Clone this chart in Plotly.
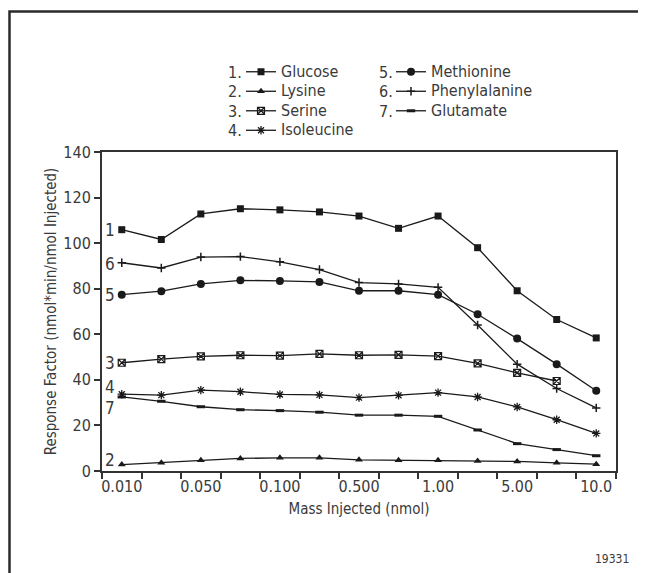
import plotly.graph_objects as go

# ---- data ----
doses = ["0.010", "0.025", "0.050", "0.075", "0.100", "0.250", "0.500",
         "0.750", "1.00", "2.50", "5.00", "7.50", "10.0"]
tick_labels = ["0.010", "", "0.050", "", "0.100", "", "0.500",
               "", "1.00", "", "5.00", "", "10.0"]

glucose = [105.9, 101.6, 112.8, 115.1, 114.6, 113.7, 111.9, 106.5, 111.9, 98.0, 79.1, 66.5, 58.4]
lysine = [2.8, 3.6, 4.7, 5.5, 5.8, 5.8, 4.9, 4.7, 4.7, 4.4, 4.2, 3.6, 3.0]
serine = [47.5, 49.1, 50.3, 50.8, 50.6, 51.4, 50.8, 51.0, 50.4, 47.2, 43.1, 39.5, None]
isoleucine = [33.7, 33.3, 35.5, 34.8, 33.6, 33.4, 32.2, 33.2, 34.4, 32.5, 28.1, 22.5, 16.5]
methionine = [77.4, 78.9, 82.1, 83.7, 83.4, 83.0, 79.1, 79.1, 77.4, 68.8, 58.1, 46.9, 35.2]
phenylalanine = [91.4, 89.1, 93.9, 94.1, 91.8, 88.4, 82.7, 82.1, 80.6, 64.1, 46.9, 36.2, 27.7]
glutamate = [32.5, 30.6, 28.2, 26.9, 26.5, 25.8, 24.5, 24.5, 24.0, 18.0, 12.0, 9.4, 6.7]

names = ["Glucose", "Lysine", "Serine", "Isoleucine", "Methionine", "Phenylalanine", "Glutamate"]
numbers = ["1.", "2.", "3.", "4.", "5.", "6.", "7."]
series = [glucose, lysine, serine, isoleucine, methionine, phenylalanine, glutamate]

FONT = "DejaVu Sans Condensed, Liberation Sans Narrow, sans-serif"
TXT = "#3a3a3a"
INK = "#1a1a1a"

styles = [
    dict(symbol="square", size=7, line=dict(width=0)),
    dict(symbol="triangle-up", size=7, line=dict(width=0)),
    dict(symbol="square-x-open", size=7, line=dict(width=1.2, color=INK)),
    dict(symbol="asterisk-open", size=7, line=dict(width=1.3, color=INK)),
    dict(symbol="circle", size=8, line=dict(width=0)),
    dict(symbol="cross-thin-open", size=6, line=dict(width=1.5, color=INK)),
    dict(symbol="line-ew-open", size=6, line=dict(width=3, color=INK)),
]

fig = go.Figure()
for i, (nm, ys, st) in enumerate(zip(names, series, styles)):
    fig.add_trace(go.Scatter(
        x=doses, y=ys, name=f"<span style='font-size:16px'>{nm}</span>",
        mode="lines+markers",
        line=dict(color=INK, width=1.3),
        marker=dict(color=INK, **st),
        legend="legend" if i < 4 else "legend2",
        connectgaps=False,
        hovertemplate=nm + ": %{y}<extra></extra>",
    ))

# page offset of the figure (default body margin) and geometry helpers
OFF = 8
W, H = 646 - OFF, 573 - OFF
ML, MR, MT, MB = 102 - OFF, 30, 152 - OFF, 110 - OFF
PW, PH = W - ML - MR, H - MT - MB
def px(x):
    return (x - OFF - ML) / PW
def py(y):
    return (H - MB - (y - OFF)) / PH

# line-number labels at left of each series
line_numbers = ["1", "2", "3", "4", "5", "6", "7"]
label_shift = {"1": 0, "2": 2, "3": 0, "4": 3, "5": 0, "6": -0.5, "7": -5}
annotations = []
for num, ys in zip(line_numbers, series):
    annotations.append(dict(
        x=doses[0], y=ys[0] + label_shift[num], xref="x", yref="y",
        text=num, showarrow=False, xshift=-12, font=dict(size=17, color=TXT, family=FONT),
    ))

# legend numbers
row_y = [72, 91.5, 111, 130.5]
for i, num in enumerate(numbers):
    col = 0 if i < 4 else 1
    r = i if i < 4 else i - 4
    annotations.append(dict(
        x=px(226 if col == 0 else 377), y=py(row_y[r]), xref="paper", yref="paper",
        text=num, showarrow=False, xanchor="left", yanchor="middle",
        font=dict(size=16, color=TXT, family=FONT),
    ))

annotations.append(dict(
    x=px(631), y=py(559), xref="paper", yref="paper", text="19331",
    showarrow=False, xanchor="right", yanchor="middle",
    font=dict(size=12, color=TXT, family=FONT),
))

# outer frame (top and left edges visible)
shapes = [dict(
    type="path", xref="paper", yref="paper",
    path=f"M {px(9.5)} {py(600)} L {px(9.5)} {py(11.5)} L {px(700)} {py(11.5)}",
    line=dict(color="#2a2a2a", width=2.5),
)]

legend_common = dict(
    font=dict(size=12.7, color=TXT, family=FONT),
    bgcolor="rgba(0,0,0,0)", borderwidth=0, tracegroupgap=0,
    xanchor="left", yanchor="top", itemwidth=30,
)

fig.update_layout(
    width=W, height=H,
    margin=dict(l=ML, r=MR, t=MT, b=MB, pad=0),
    paper_bgcolor="white", plot_bgcolor="white",
    font=dict(family=FONT, color=TXT, size=16),
    showlegend=True,
    legend=dict(x=px(241), y=py(57), **legend_common),
    legend2=dict(x=px(391), y=py(57), **legend_common),
    annotations=annotations,
    shapes=shapes,
)

fig.update_xaxes(
    type="category", categoryorder="array", categoryarray=doses,
    range=[-0.5, 12.5],
    tickmode="array", tickvals=doses, ticktext=tick_labels, tickangle=0,
    tickson="boundaries", ticks="outside", ticklen=6, tickwidth=1.5, tickcolor="#333",
    showline=True, linecolor="#333", linewidth=2, mirror=True,
    showgrid=False, zeroline=False,
    tickfont=dict(size=16, color=TXT, family=FONT),
    title=dict(text="Mass Injected (nmol)", standoff=8,
               font=dict(size=15, color=TXT, family=FONT)),
)
fig.update_yaxes(
    range=[0, 140], tickmode="array", tickvals=[0, 20, 40, 60, 80, 100, 120, 140],
    ticks="outside", ticklen=6, tickwidth=1.5, tickcolor="#333",
    showline=True, linecolor="#333", linewidth=2, mirror=True,
    showgrid=False, zeroline=False,
    tickfont=dict(size=16, color=TXT, family=FONT),
    title=dict(text="Response Factor (nmol*min/nmol Injected)", standoff=3,
               font=dict(size=15, color=TXT, family=FONT)),
)

fig.write_html("out.html")
